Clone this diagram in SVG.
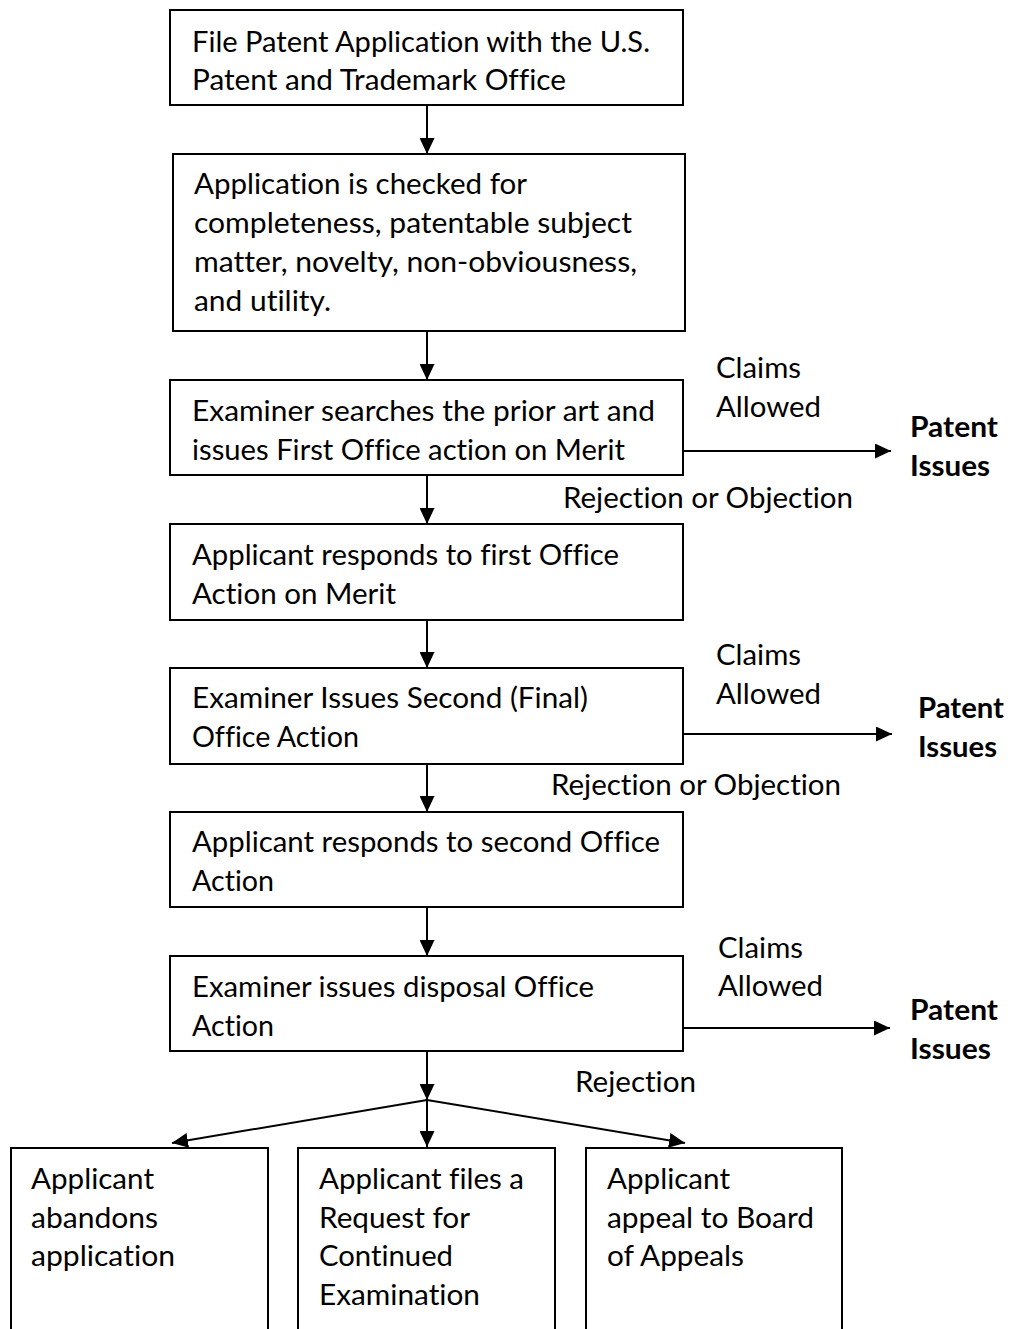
<svg xmlns="http://www.w3.org/2000/svg" width="1010" height="1329" viewBox="0 0 1010 1329">
<style>
.box{fill:#fff;stroke:#000;stroke-width:2}
.t{font-family:Lato,"Open Sans","Liberation Sans",sans-serif;font-size:28px;fill:#000;font-variant-ligatures:none}
.b{font-weight:bold}
.c{stroke:#000;stroke-width:2;fill:none;marker-end:url(#ah)}
</style>
<defs>
<marker id="ah" markerUnits="userSpaceOnUse" markerWidth="17" markerHeight="15" refX="16" refY="7.5" orient="auto">
<path d="M0,0 L16,7.5 L0,15 Z" fill="#000"/>
</marker>
</defs>
<rect width="1010" height="1329" fill="#fff"/>
<g id="connectors">
<line class="c" x1="427" y1="105" x2="427" y2="154"/>
<line class="c" x1="427" y1="331" x2="427" y2="380"/>
<line class="c" x1="427" y1="475" x2="427" y2="524"/>
<line class="c" x1="427" y1="620" x2="427" y2="668"/>
<line class="c" x1="427" y1="764" x2="427" y2="812"/>
<line class="c" x1="427" y1="907" x2="427" y2="956"/>
<line class="c" x1="427" y1="1051" x2="427" y2="1100"/>
<line class="c" x1="427" y1="1100" x2="172" y2="1143"/>
<line class="c" x1="427" y1="1100" x2="427" y2="1147"/>
<line class="c" x1="427" y1="1100" x2="685" y2="1143"/>
<line class="c" x1="683" y1="451" x2="891" y2="451"/>
<line class="c" x1="683" y1="734" x2="892" y2="734"/>
<line class="c" x1="683" y1="1028" x2="890" y2="1028"/>
</g>
<g id="labels">
<text class="t" x="716" y="378" textLength="85" lengthAdjust="spacingAndGlyphs">Claims</text>
<text class="t" x="716" y="417" textLength="105" lengthAdjust="spacingAndGlyphs">Allowed</text>
<text class="t b" x="910" y="437" textLength="88" lengthAdjust="spacingAndGlyphs">Patent</text>
<text class="t b" x="910" y="476" textLength="80" lengthAdjust="spacingAndGlyphs">Issues</text>
<text class="t" x="563" y="508" textLength="290" lengthAdjust="spacingAndGlyphs">Rejection or Objection</text>
<text class="t" x="716" y="665" textLength="85" lengthAdjust="spacingAndGlyphs">Claims</text>
<text class="t" x="716" y="704" textLength="105" lengthAdjust="spacingAndGlyphs">Allowed</text>
<text class="t b" x="918" y="718" textLength="86" lengthAdjust="spacingAndGlyphs">Patent</text>
<text class="t b" x="918" y="757" textLength="79" lengthAdjust="spacingAndGlyphs">Issues</text>
<text class="t" x="551" y="795" textLength="290" lengthAdjust="spacingAndGlyphs">Rejection or Objection</text>
<text class="t" x="718" y="958" textLength="85" lengthAdjust="spacingAndGlyphs">Claims</text>
<text class="t" x="718" y="996" textLength="105" lengthAdjust="spacingAndGlyphs">Allowed</text>
<text class="t b" x="910" y="1020" textLength="88" lengthAdjust="spacingAndGlyphs">Patent</text>
<text class="t b" x="910" y="1059" textLength="81" lengthAdjust="spacingAndGlyphs">Issues</text>
<text class="t" x="575" y="1092" textLength="121" lengthAdjust="spacingAndGlyphs">Rejection</text>
</g>
<g id="n1">
<rect class="box" x="170" y="10" width="513" height="95"/>
<text class="t" x="192" y="52" textLength="458" lengthAdjust="spacingAndGlyphs">File Patent Application with the U.S.</text>
<text class="t" x="192" y="90" textLength="374" lengthAdjust="spacingAndGlyphs">Patent and Trademark Office</text>
</g>
<g id="n2">
<rect class="box" x="173" y="154" width="512" height="177"/>
<text class="t" x="194" y="194" textLength="333" lengthAdjust="spacingAndGlyphs">Application is checked for</text>
<text class="t" x="194" y="233" textLength="438" lengthAdjust="spacingAndGlyphs">completeness, patentable subject</text>
<text class="t" x="194" y="272" textLength="443" lengthAdjust="spacingAndGlyphs">matter, novelty, non-obviousness,</text>
<text class="t" x="194" y="311" textLength="137" lengthAdjust="spacingAndGlyphs">and utility.</text>
</g>
<g id="n3">
<rect class="box" x="170" y="380" width="513" height="95"/>
<text class="t" x="192" y="421" textLength="463" lengthAdjust="spacingAndGlyphs">Examiner searches the prior art and</text>
<text class="t" x="192" y="460" textLength="433" lengthAdjust="spacingAndGlyphs">issues First Office action on Merit</text>
</g>
<g id="n4">
<rect class="box" x="170" y="524" width="513" height="96"/>
<text class="t" x="192" y="565" textLength="427" lengthAdjust="spacingAndGlyphs">Applicant responds to first Office</text>
<text class="t" x="192" y="604" textLength="204" lengthAdjust="spacingAndGlyphs">Action on Merit</text>
</g>
<g id="n5">
<rect class="box" x="170" y="668" width="513" height="96"/>
<text class="t" x="192" y="708" textLength="396" lengthAdjust="spacingAndGlyphs">Examiner Issues Second (Final)</text>
<text class="t" x="192" y="747" textLength="167" lengthAdjust="spacingAndGlyphs">Office Action</text>
</g>
<g id="n6">
<rect class="box" x="170" y="812" width="513" height="95"/>
<text class="t" x="192" y="852" textLength="468" lengthAdjust="spacingAndGlyphs">Applicant responds to second Office</text>
<text class="t" x="192" y="891" textLength="82" lengthAdjust="spacingAndGlyphs">Action</text>
</g>
<g id="n7">
<rect class="box" x="170" y="956" width="513" height="95"/>
<text class="t" x="192" y="997" textLength="402" lengthAdjust="spacingAndGlyphs">Examiner issues disposal Office</text>
<text class="t" x="192" y="1036" textLength="82" lengthAdjust="spacingAndGlyphs">Action</text>
</g>
<g id="n8">
<rect class="box" x="11" y="1148" width="257" height="200"/>
<text class="t" x="31" y="1189" textLength="123" lengthAdjust="spacingAndGlyphs">Applicant</text>
<text class="t" x="31" y="1228" textLength="127" lengthAdjust="spacingAndGlyphs">abandons</text>
<text class="t" x="31" y="1266" textLength="144" lengthAdjust="spacingAndGlyphs">application</text>
</g>
<g id="n9">
<rect class="box" x="298" y="1148" width="257" height="200"/>
<text class="t" x="319" y="1189" textLength="205" lengthAdjust="spacingAndGlyphs">Applicant files a</text>
<text class="t" x="319" y="1228" textLength="151" lengthAdjust="spacingAndGlyphs">Request for</text>
<text class="t" x="319" y="1266" textLength="134" lengthAdjust="spacingAndGlyphs">Continued</text>
<text class="t" x="319" y="1305" textLength="161" lengthAdjust="spacingAndGlyphs">Examination</text>
</g>
<g id="n10">
<rect class="box" x="586" y="1148" width="256" height="200"/>
<text class="t" x="607" y="1189" textLength="123" lengthAdjust="spacingAndGlyphs">Applicant</text>
<text class="t" x="607" y="1228" textLength="207" lengthAdjust="spacingAndGlyphs">appeal to Board</text>
<text class="t" x="607" y="1266" textLength="137" lengthAdjust="spacingAndGlyphs">of Appeals</text>
</g>
</svg>
